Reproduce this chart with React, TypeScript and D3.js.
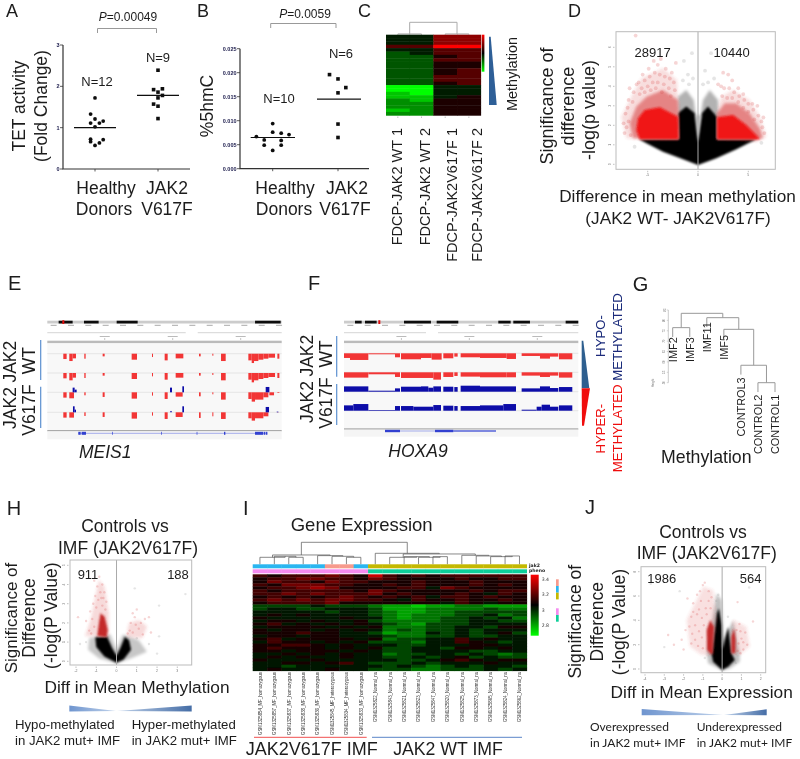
import React from "react";
import * as d3 from "d3";

/* ---------- A / B dot plots ---------- */
const groups = ["Healthy Donors", "JAK2 V617F"];
const tetHealthy = [[0,1.72],[-.07,1.33],[0,1.21],[-.07,1.11],[.07,1.11],[.13,1.16],[0,1.02],[-.07,.66],[0,.57],[.07,.63],[.13,.71],[-.07,.72]];
const tetJak2 = [[1,2.39],[.93,1.92],[1.07,1.94],[1,1.86],[1.07,1.78],[.93,1.57],[1,1.52],[1,1.22],[1,1.72]];
const tetMeans = [1, 1.78];
const hmcHealthy = [[0,.0094],[0,.0076],[.13,.0074],[.25,.0071],[-.25,.0067],[-.13,.006],[.13,.0059],[-.13,.0049],[.13,.0049],[0,.0038]];
const hmcJak2 = [[.87,.0196],[1,.0187],[1.12,.0169],[1,.0158],[1,.0093],[1,.0065]];
const hmcMeans = [.0065, .0145];
const tetTicks = [0,1,2,3];
const hmcTicks = [0,.005,.01,.015,.02,.025];

/* ---------- C heatmap ---------- */
const methylSamples = ["FDCP-JAK2 WT 1","FDCP-JAK2 WT 2","FDCP-JAK2V617F 1","FDCP-JAK2V617F 2"];
const methylRows = ["4477","4477","4477","6699","4466","3466","3356","3366","3355","3355","3356","3356","3366","3366","3356","0044","0044","1044","1145","2155","2255","2255","1255","2255"];

/* ---------- D, H, J volcano plots ---------- */
const dGray = [[-1.99,2.6],[-1.99,3.47],[-1.16,3.81],[-.43,3.3],[0,1.6],[.5,3.3],[1.16,3.81],[1.99,3.3],[1.99,2.44]];
const dBlack = [[0,-.03],[-1.49,.26],[-3.48,.65],[-5.13,1.08],[-5.86,1.28],[-1.92,1.28],[-1.99,2.62],[-1.16,2.96],[-.33,2.62],[0,1.16],[.4,2.62],[.99,2.96],[1.89,2.44],[1.89,1.28],[5.79,1.28],[3.81,.77],[1.82,.31]];
const dOuterL = [[-7.12,1.33],[-7.62,2.44],[-6.62,3.47],[-5.63,4.41],[-3.48,4.92],[-2.09,4.32],[-1.92,2.62],[-1.92,1.28]];
const dOuterR = [[1.89,1.28],[1.89,2.62],[2.32,3.47],[3.48,3.81],[5.13,3.3],[6.13,2.44],[6.79,1.42],[5.79,1.16]];
const dInnerL = [[-6.46,1.33],[-6.79,2.1],[-6.13,2.96],[-5.13,3.47],[-3.48,3.81],[-1.99,3.3],[-1.92,2.44],[-1.92,1.3]];
const dInnerR = [[1.89,2.62],[2.65,3.13],[3.81,3.13],[5.13,2.62],[6.13,1.85],[6.46,1.33],[5.79,1.28],[1.89,1.28]];
const dCoreL = [[-5.8,1.28],[-6.13,1.76],[-5.96,2.36],[-5.3,2.79],[-3.81,2.92],[-1.99,2.44],[-1.92,1.28]];
const dCoreR = [[1.89,1.28],[1.89,2.41],[3.48,2.53],[4.8,2.02],[5.79,1.5],[6.13,1.28]];
const dPink = [[-6.2,6.6],[-4.9,4.9],[-4,5.1],[-5.5,4.6],[-3.2,4.9],[-2.6,4.7],[-6.8,3.9],[-7.2,2.6],[-7.4,2.1],[-7.3,1.6],[-6.9,3.3],[-2.2,5.2],[2.5,4.7],[3,4.6],[3.4,4.3],[4.5,3.6],[5.4,3.1],[6.4,1.9],[6.5,2.4],[5.9,3],[2,4.1],[4,3.9],[-3.7,5.4],[-4.4,5.3],[-5.9,4.2],
  [-6.4,3.7],[-6.1,4.1],[-5.3,4.3],[-4.8,4.5],[-4.3,4.7],[-3.8,4.6],[-3.3,4.5],[-2.8,4.4],[-2.4,4.2],[-5.6,3.9],[-5,4],[-4.5,4.2],[-4,4.2],[-3.4,4.1],[-2.9,3.9],[-2.3,3.8],[-6.5,3.2],[-7,2.9],[-6.9,2.2],[-7.1,1.9],[-6.7,1.5],[-5.8,3.6],[-5.3,3.7],[-4.7,3.8],[-4.2,3.9],[-3.6,3.7],
  [-2.7,3.5],[2.3,4],[2.6,3.9],[3.1,3.9],[3.6,3.7],[4.1,3.5],[4.6,3.3],[5,3.1],[5.5,2.8],[6,2.5],[6.3,2.2],[6.6,1.6],[2.4,3.5],[2.9,3.4],[3.4,3.4],[4,3.2],[4.5,2.9],[5,2.7],[5.6,2.3]];
const dGrayPts = [[-1.4,5.3],[1.3,5.7],[-.6,5.7],[.7,4.8],[-1,4.6],[1.6,4.4],[-.9,4.1],[1,4.2],[-1.5,4.3],[-6.3,.9],[6.3,1.1],[-.5,4.4],[.5,4.1]];

const hGray = [[0,-.1],[-.85,.14],[-1.4,.6],[-1.35,1.2],[-.3,1.4],[0,.6],[.3,1.4],[1.1,1.1],[1.5,.5],[.7,.14]];
const hBlack = [[0,-.07],[-.6,.25],[-1,.75],[-1.05,1.25],[-.46,1.28],[-.21,.68],[0,.3],[.2,.72],[.41,1.28],[.62,1.1],[.72,.6],[.35,.1]];
const hHalo = [[-1.55,1.32],[-1.28,2.15],[-1.04,3.37],[-.87,4.24],[-.59,3.89],[-.38,2.5],[-.38,1.28]];
const hHaloR = [[.49,1.28],[.61,1.98],[1.1,2.15],[1.51,1.81],[1.27,1.2]];
const hCore = [[-.95,1.32],[-.87,1.98],[-.79,2.5],[-.59,2.33],[-.43,1.63],[-.49,1.25]];
const hPink = [[-1.9,2.3],[-1.1,4.2],[-.95,3.9],[-.8,3.6],[-1.3,2.6],[-1.5,2.1],[-.7,4],[-.6,3.6],[-.5,3.1],[-1,2.8],[.9,2.3],[1,2.7],[1.4,2.2],[1.6,2.3],[1.1,1.7],[1.7,1.5],[.7,2],
  [-1.2,2.2],[-1.1,1.8],[-1.35,1.6],[-.9,3.2],[-.75,3.3],[-1.05,3.4],[-.85,4.4],[-.65,3.3],[-1.15,3],[-.55,2.7],[-1.25,1.45],[-.7,2.9],[.65,1.6],[.8,1.5],[.95,1.9],[1.2,2],[1.3,1.4],[.8,2.5],[.55,1.45]];
const hGrayPts = [[2.1,1.3],[3.4,3.5],[.9,3.8],[2.1,2.9],[1.6,.9],[-1.8,.9],[-1.5,1],[1,1.2],[2,.4]];

const jGray = [[0,-.1],[-.72,.47],[-.8,1.29],[-.29,6.2],[-.03,5.67],[.09,2.38],[.57,4],[.91,1.29],[.91,.6],[.4,.05]];
const jBlack = [[0,-.08],[-.47,.6],[-.55,1.29],[-.45,2.38],[-.27,4.58],[-.17,5],[-.02,3.6],[.02,1.6],[.14,2.38],[.31,3.48],[.48,1.29],[.66,.74],[.31,.19]];
const jHaloL = [[-1.67,1.84],[-1.84,4.03],[-.98,6.77],[-.47,6.49],[-.29,4.03],[-.47,1.15],[-1.07,1.15]];
const jHaloR = [[.4,1.29],[.57,4.03],[1.26,3.48],[1.43,1.84],[.91,1.15]];
const jCoreL = [[-.6,1.25],[-.78,1.56],[-.8,3.2],[-.62,4.03],[-.42,3.48],[-.48,1.25]];
const jCoreR = [[.48,1.29],[.48,2.66],[.62,3.34],[.7,2.38],[.68,1.29]];
const jPink = [[-2.8,2.8],[-2.5,2],[-2.1,2.4],[-1.9,3.2],[-2,1.6],[-1.6,4.3],[-1.5,5.4],[-1.3,6.1],[-1,6.9],[-.9,7.1],[-.7,6.4],[-1.8,5.8],[-1.2,4.9],[-1.4,3.6],[-1.1,5.6],[.9,3.7],[1,2.5],[1.2,3],[1.3,2],[1.6,3.9],[.8,5.5],[1.1,1.6],
  [-1.7,3.5],[-1.55,2.9],[-1.4,2.4],[-1.25,1.9],[-1.6,2.1],[-1.2,3.1],[-1.05,4.2],[-1.3,4.5],[-.85,5],[-.7,5.6],[-1.05,2.6],[-1,1.7],[-.95,3.6],[-.8,4.5],[-.6,5],[-1.5,4.7],[-1.15,6.4],[-.55,5.9],[.75,3.2],[.85,2.1],[.95,3.1],[1.1,2.2],[.8,1.5],[.95,1.3]];
const jGrayPts = [[-3.7,7],[-2.2,6.4],[1.4,6.7],[-3,1.8],[-.3,5.6],[-.2,6.1],[.3,4.3],[.7,.5],[-.9,.9]];

/* ---------- E, F browser tracks (view bins, signal depth) ---------- */
const eShared = [[190,200,16],[208,218,22],[218,228,14],[253,257,15],[308,314,8],[395,411,18],[456,459,10],[494,503,20],[527,550,14],[597,602,8],[637,640,6],[663,677,22],[745,755,20],[755,762,28],[762,775,22],[775,790,18],[790,805,15],[805,825,12],[832,838,15]];
const eMut1 = [[190,200,16],[208,222,18],[253,257,9],[308,314,14],[395,411,19],[456,459,10],[494,503,20],[527,548,13],[597,602,12],[637,640,6],[663,677,22],[745,755,20],[755,765,28],[765,790,22],[790,805,15],[808,822,9],[832,838,2]];
const eMut2 = [[190,200,16],[208,222,16],[253,257,11],[308,314,14],[395,411,19],[456,459,10],[494,503,20],[527,548,14],[597,602,17],[637,640,12],[663,677,20],[745,755,18],[755,765,25],[765,790,18],[790,805,12],[832,835,1]];
const eBlue1 = [[218,224,14],[224,230,8],[510,516,14],[547,552,18],[797,808,16]];
const eBlue2 = [[219,224,18],[224,228,8],[511,515,4],[547,552,18],[797,807,16],[830,835,2]];
const eBands = [[176,218],[252,296],[350,413],[765,842]];
const eGene = [[235,242],[245,258],[336,338],[484,486],[590,592],[672,676],[765,790],[792,796],[798,802]];
const fBands = [[105,125],[135,170],[252,333],[350,415],[535,572],[580,630],[737,775]];
const fTrack1 = [[72,90,14],[90,145,20],[145,225,3],[225,240,12],[243,303,18],[303,335,14],[335,365,19],[370,400,15],[403,413,10],[422,480,12],[480,560,14],[560,588,17],[605,660,8],[660,690,16],[690,715,10],[717,757,18]];
const fTrack2 = [[72,145,16],[145,225,6],[225,240,14],[243,340,17],[340,363,22],[370,400,14],[403,413,11],[422,480,13],[480,560,15],[560,588,15],[605,660,10],[660,690,14],[690,715,10],[717,757,16]];
const fTrack3 = [[72,145,16],[145,225,3],[225,240,10],[243,303,15],[303,325,16],[325,340,12],[340,363,16],[370,400,15],[403,413,14],[422,480,18],[480,588,16],[605,660,10],[660,690,16],[690,715,11],[717,757,14]];
const fTrack4 = [[72,100,16],[100,145,20],[145,225,2],[225,240,14],[243,280,14],[280,340,12],[340,363,17],[370,400,15],[403,413,14],[422,480,14],[480,550,16],[550,588,20],[605,650,3],[650,665,12],[665,690,18],[690,715,12],[717,757,16]];

/* ---------- G dendrogram ---------- */
const imfLeaves = ["IMF2","IMF3","IMF11","IMF5","CONTROL3","CONTROL2","CONTROL1"];
const imfTree = {h:83.4,k:[{h:76.5,k:["IMF2","IMF3"]},{h:81.3,k:["IMF11",{h:75.7,k:["IMF5",{h:58.4,k:["CONTROL3",{h:50,k:["CONTROL2","CONTROL1"]}]}]}]}]};
const heightTicks = [50,55,60,65,70,75,80,85];

/* ---------- I heatmap ---------- */
const exprSamples = ["GSM1325854_MF_homozygous","GSM1325857_MF_homozygous","GSM1325837_MF_homozygous","GSM1325838_MF_homozygous","GSM1325836_MF_homozygous","GSM1325845_MF_heterozygous","GSM1325834_MF_heterozygous","GSM1325833_MF_homozygous","GSM1325822_Normal_na","GSM1325843_Normal_na","GSM1325821_Normal_na","GSM1325823_Normal_na","GSM1325847_Normal_na","GSM1325820_Normal_na","GSM1325825_Normal_na","GSM1325873_Normal_na","GSM1325865_Normal_na","GSM1325824_Normal_na","GSM1325862_Normal_na"];
const exprRows = [
"65666765 96565666666","56677665 76555565566","57665766 55565556555","65777665 56565556565",
"56678755 55664765555","65666665 76555556566","66767666 75655565465","56565676 56564665655",
"67676776 65465565565","56666755 55555465455","33334333 21101122111","34433444 31112222322",
"44444344 32112233333","45454444 32122233423","54444454 42122334342","45545445 32222334433",
"56454545 43213334444","45555454 52223344355","54554545 42323343444","55565544 31224343453",
"45545544 43223343344","56455554 52334464544","46554545 33324465434","55665454 44334445544",
"56555454 53344355454","55455545 43344443344","44545454 42334434323","45454454 43343453433",
"54445444 44334565455","44554564 33343444544","44344444 43432343443","45444544 33322333434"];
const genotype = ["#29b6f0","#29b6f0","#29b6f0","#29b6f0","#29b6f0","#f79a8c","#f79a8c","#29b6f0","#c4b800","#c4b800","#c4b800","#c4b800","#c4b800","#c4b800","#c4b800","#c4b800","#c4b800","#c4b800","#c4b800"];
const phenotype = ["#f58bf0","#f58bf0","#f58bf0","#f58bf0","#f58bf0","#f58bf0","#f58bf0","#f58bf0","#10cf9a","#10cf9a","#10cf9a","#10cf9a","#10cf9a","#10cf9a","#10cf9a","#10cf9a","#10cf9a","#10cf9a","#10cf9a"];
const exprTree = {h:66,k:[
  {h:28,k:[{h:21,k:[0,{h:24,k:[1,{h:21,k:[2,3]}]}]},{h:26,k:[4,{h:24,k:[5,{h:21,k:[6,7]}]}]}]},
  {h:33,k:[8,{h:31,k:[{h:21,k:[9,{h:23,k:[10,{h:21,k:[11,{h:23,k:[12,13]}]}]}]},{h:27,k:[14,{h:25,k:[15,{h:23,k:[16,{h:25,k:[17,18]}]}]}]}]}]}]};
const exprKey = [["3.4",3.4],["3.2",3.2],["3",3],["2.8",2.8]];

/* ---------- helpers ---------- */
const SANS = "'Liberation Sans', Arial, sans-serif";
const INK = "#1c1c1c";
const T = ({x,y,s=17.5,a="middle",r=false,fill=INK,it=false,w=400,ff=SANS,children,len}: any) => (
  <text x={x} y={y} fontSize={s} textAnchor={a} fill={fill} fontStyle={it?"italic":"normal"} fontWeight={w} fontFamily={ff}
    textLength={len} lengthAdjust={len?"spacingAndGlyphs":undefined} transform={r?`rotate(-90 ${x} ${y})`:undefined}>{children}</text>
);
const heatScale = d3.scaleLinear<string>().domain([0,4.5,9]).range(["#00ff00","#000000","#ff0000"]);
const exprScale = d3.scaleLinear<string>().domain([0,4.5,9]).range(["#00d000","#000000","#c80000"]);
const closed = d3.line().curve(d3.curveLinearClosed);

function tree(node: any, xOf: (l:any)=>number, yOf: (h:number)=>number, leafEnd: (ph:number)=>number, out: any[]): number {
  const xs = node.k.map((c: any) => {
    if (c && c.k) { const x = tree(c,xOf,yOf,leafEnd,out); out.push([x,yOf(node.h),x,yOf(c.h)]); return x; }
    const x = xOf(c); out.push([x,yOf(node.h),x,yOf(leafEnd(node.h))]); return x;
  });
  out.push([d3.min(xs),yOf(node.h),d3.max(xs),yOf(node.h)]);
  return d3.mean(xs) as number;
}
const Segs = ({segs,stroke="#999",sw=1}: any) => <g stroke={stroke} strokeWidth={sw} fill="none">{segs.map((s:any,i:number)=><line key={i} x1={s[0]} y1={s[1]} x2={s[2]} y2={s[3]}/>)}</g>;

function DotPanel({xr,axisX,yr,dom,ticks,fmt,circles,squares,means,meanSpan,axisEnd,xTicks}: any) {
  const x = d3.scaleLinear([0,1],xr), y = d3.scaleLinear(dom,yr);
  return <g>
    <path d={`M${axisX} ${yr[1]}V${yr[0]}H${axisEnd}`} fill="none" stroke="#333" strokeWidth={1.2}/>
    {ticks.map((t:number)=><g key={t}><line x1={axisX-3} x2={axisX} y1={y(t)} y2={y(t)} stroke="#333" strokeWidth={.8}/>
      <text x={axisX-3.5} y={y(t)+2} fontSize={5.5} fontWeight={700} textAnchor="end" fontFamily="'Liberation Sans Narrow','Liberation Sans',sans-serif" fill="#1a1a4a">{fmt(t)}</text></g>)}
    {xTicks.map((t:number)=><line key={t} x1={x(t)} x2={x(t)} y1={yr[0]} y2={yr[0]+2.5} stroke="#333" strokeWidth={.8}/>)}
    {circles.map((p:number[],i:number)=><circle key={i} cx={x(p[0])} cy={y(p[1])} r={1.9} fill="#111"/>)}
    {squares.map((p:number[],i:number)=><rect key={i} x={x(p[0])-1.8} y={y(p[1])-1.8} width={3.6} height={3.6} fill="#111"/>)}
    {means.map((m:number,i:number)=><line key={i} x1={meanSpan[i][0]} x2={meanSpan[i][1]} y1={y(m)} y2={y(m)} stroke="#111" strokeWidth={1.2}/>)}
  </g>;
}

function Volcano({id,box,xDom,xr,yDom,yr,xTicks,yTicks,gray,grayOp=.3,black,halos,cores,pink,grayPts,coreFill,r=1.8}: any) {
  const x = d3.scaleLinear(xDom,xr), y = d3.scaleLinear(yDom,yr);
  const poly = (d:number[][]) => closed(d.map(p=>[x(p[0]),y(p[1])]) as any) as string;
  const [l,t,rr,b] = box;
  return <g>
    <clipPath id={id}><rect x={l} y={t} width={rr-l} height={b-t}/></clipPath>
    <g clipPath={`url(#${id})`}>
      <path d={poly(gray)} fill="#000" opacity={grayOp} filter="url(#b2)"/>
      <path d={poly(black)} fill="#000" filter="url(#b05)"/>
      {halos.map((h:any,i:number)=><path key={i} d={poly(h.d)} fill="#d84a4a" opacity={h.o} filter="url(#b2)"/>)}
      {cores.map((h:any,i:number)=><path key={i} d={poly(h)} fill={coreFill} filter="url(#b05)"/>)}
      {grayPts.map((p:number[],i:number)=><circle key={i} cx={x(p[0])} cy={y(p[1])} r={r} fill="#888" opacity={.22}/>)}
      {pink.map((p:number[],i:number)=><circle key={i} cx={x(p[0])} cy={y(p[1])} r={r} fill="#d84040" opacity={.22}/>)}
    </g>
    <line x1={x(0)} x2={x(0)} y1={t} y2={b} stroke="#aaa" strokeWidth={1}/>
    <rect x={l} y={t} width={rr-l} height={b-t} fill="none" stroke="#bbb" strokeWidth={1}/>
    {xTicks.map((v:number)=><g key={v}><line x1={x(v)} x2={x(v)} y1={b+1.5} y2={b+3} stroke="#999" strokeWidth={.6}/><text x={x(v)} y={b+7} fontSize={3.5} textAnchor="middle" fill="#777" fontFamily={SANS}>{v}</text></g>)}
    {yTicks.map((v:number)=><g key={v}><line x1={l-3} x2={l-1.5} y1={y(v)} y2={y(v)} stroke="#999" strokeWidth={.6}/><text x={l-5} y={y(v)} fontSize={3.5} textAnchor="middle" fill="#777" fontFamily={SANS} transform={`rotate(-90 ${l-5} ${y(v)})`}>{v}</text></g>)}
  </g>;
}

function Browser({dom,xr,bands,marker,tracks,gene,bgBottom,botY,kbX}: any) {
  const x = d3.scaleLinear(dom,xr);
  const depth = d3.scaleLinear([0,30],[0,10]);
  const [l,rr] = xr;
  return <g>
    <rect x={l} y={320.7} width={rr-l} height={2.8} fill="#ccc"/>
    {bands.map((b:number[],i:number)=><rect key={i} x={x(b[0])} y={320.7} width={x(b[1])-x(b[0])} height={2.8} fill="#111"/>)}
    <rect x={x(marker)-1} y={320.2} width={2} height={3.8} fill="#e01010"/>
    {d3.range(dom[0]+10,dom[1],52).map((v:number)=><rect key={v} x={x(v)} y={324.8} width={6} height={1} fill="#aaa"/>)}
    <line x1={l} x2={kbX-6} y1={332.7} y2={332.7} stroke="#ddd" strokeWidth={1.2}/>
    <line x1={kbX+6} x2={rr} y1={332.7} y2={332.7} stroke="#ddd" strokeWidth={1.2}/>
    <rect x={l} y={340.7} width={rr-l} height={2.6} fill="#bbb"/>
    <rect x={l} y={343.3} width={rr-l} height={bgBottom-343.3} fill="#f8f8f8"/>
    {[.245,.535,.825].map((f:number)=><g key={f}><line x1={l+f*(rr-l)} x2={l+f*(rr-l)} y1={338} y2={340} stroke="#888" strokeWidth={.5}/><rect x={l+f*(rr-l)-5} y={336} width={10} height={1} fill="#bbb"/></g>)}
    {tracks.map((t:any,i:number)=><g key={i}>
      <line x1={l} x2={rr} y1={t.y} y2={t.y} stroke="#ddd" strokeWidth={.7}/>
      {t.red.map((s:number[],j:number)=><rect key={j} x={x(s[0])} y={t.y} width={x(s[1])-x(s[0])} height={depth(s[2])} fill="#f23535"/>)}
      {t.blue.map((s:number[],j:number)=><rect key={j} x={x(s[0])} y={t.y-depth(s[2])} width={x(s[1])-x(s[0])} height={depth(s[2])} fill="#0c0ca8"/>)}
    </g>)}
    <rect x={l} y={bgBottom} width={rr-l} height={1.4} fill="#aaa"/>
    <rect x={l} y={bgBottom+1.4} width={rr-l} height={botY-bgBottom-1.4} fill="#f5f5f5"/>
    <line x1={x(gene.from)} x2={x(gene.to)} y1={gene.y} y2={gene.y} stroke="#5060e0" strokeWidth={.5}/>
    {gene.exons.map((e:number[],i:number)=><rect key={i} x={x(e[0])} y={gene.y-(e[2]||3)/2} width={x(e[1])-x(e[0])} height={e[2]||3} fill="#3040d0"/>)}
  </g>;
}

export default function App() {
  const cX = d3.scaleBand(d3.range(4),[386,480.7]);
  const cY = d3.scaleLinear([0,32],[34.7,22.3]);
  const cSegs:any[] = [];
  tree({h:32,k:[{h:2,k:[0,1]},{h:2,k:[2,3]}]},(i:number)=>cX(i)!+cX.bandwidth()/2,cY,()=>0,cSegs);
  const gX = d3.scalePoint(imfLeaves,[672.7,775]);
  const gY = d3.scaleLinear([50,85],[382.7,310]);
  const gSegs:any[] = [];
  tree(imfTree,(l:string)=>gX(l)!,gY,(h:number)=>h-4.5,gSegs);
  const iX = d3.scaleBand(d3.range(19),[252.7,526.7]);
  const iTreeY = d3.scaleLinear([0,66],[564.3,542.3]);
  const iSegs:any[] = [];
  tree(exprTree,(i:number)=>iX(i)!+iX.bandwidth()/2,iTreeY,()=>0,iSegs);
  const iRowY = d3.scaleBand(d3.range(exprRows.length),[574.3,670.7]);
  const cRowY = d3.scaleBand(d3.range(methylRows.length),[34.7,115.3]);
  const keyY = d3.scaleLinear([3.4,2.8],[579.3,625.7]);
  const L = {s:18};

  return <svg width={800} height={759} viewBox="0 0 800 759" style={{position:"absolute",left:0,top:0,display:"block",background:"#fff"}}>
    <defs>
      <filter id="b05" x="-20%" y="-20%" width="140%" height="140%"><feGaussianBlur stdDeviation=".9"/></filter>
      <filter id="b2" x="-30%" y="-30%" width="160%" height="160%"><feGaussianBlur stdDeviation="1.8"/></filter>
      <filter id="soft" x="-2%" y="-2%" width="104%" height="104%"><feGaussianBlur stdDeviation=".3"/></filter>
      <linearGradient id="rgb" x1="0" y1="0" x2="0" y2="1"><stop offset="0" stopColor="#ff0000"/><stop offset=".5" stopColor="#000"/><stop offset="1" stopColor="#00ff00"/></linearGradient>
      <linearGradient id="wedgeL" x1="0" x2="1"><stop offset="0" stopColor="#6f95cf"/><stop offset="1" stopColor="#c0d2ea"/></linearGradient>
      <linearGradient id="wedgeR" x1="0" x2="1"><stop offset="0" stopColor="#c0d2ea"/><stop offset="1" stopColor="#456da6"/></linearGradient>
    </defs>
    <g filter="url(#soft)">
    {/* A */}
    <T x={6} y={16.5} s={L.s} a="start">A</T>
    <T x={128} y={21} s={12}><tspan fontStyle="italic">P</tspan>=0.00049</T>
    <path d="M97.5 33V28.5H156.5V33" fill="none" stroke="#999"/>
    <T x={25} y={106} r>TET activity</T>
    <T x={47} y={106} r>(Fold Change)</T>
    <DotPanel xr={[95,158]} axisX={63} yr={[169,45]} dom={[0,3]} ticks={tetTicks} fmt={(t:number)=>String(t)} circles={tetHealthy} squares={tetJak2} means={tetMeans} meanSpan={[[74,116],[137,179]]} axisEnd={190} xTicks={[0,1]}/>
    <T x={97} y={86} s={13}>N=12</T>
    <T x={158} y={62} s={13}>N=9</T>
    <T x={106} y={194}>{groups[0].split(" ")[0]}</T>
    <T x={104} y={215}>{groups[0].split(" ")[1]}</T>
    <T x={167} y={194}>{groups[1].split(" ")[0]}</T>
    <T x={167} y={215}>{groups[1].split(" ")[1]}</T>
    {/* B */}
    <T x={197} y={16.5} s={L.s} a="start">B</T>
    <T x={305} y={18} s={12}><tspan fontStyle="italic">P</tspan>=0.0059</T>
    <path d="M270.7 28V23.5H336V28" fill="none" stroke="#999"/>
    <T x={213} y={106} r>%5hmC</T>
    <DotPanel xr={[272.7,338]} axisX={240} yr={[168.7,48.7]} dom={[0,.025]} ticks={hmcTicks} fmt={(t:number)=>t.toFixed(3)} circles={hmcHealthy} squares={hmcJak2} means={hmcMeans} meanSpan={[[250.7,295],[317,361]]} axisEnd={369} xTicks={[0,1]}/>
    <T x={279} y={103} s={13}>N=10</T>
    <T x={341} y={58} s={13}>N=6</T>
    <T x={285} y={194}>{groups[0].split(" ")[0]}</T>
    <T x={284} y={215}>{groups[0].split(" ")[1]}</T>
    <T x={347} y={194}>{groups[1].split(" ")[0]}</T>
    <T x={345} y={215}>{groups[1].split(" ")[1]}</T>
    {/* C */}
    <T x={358} y={16.5} s={L.s} a="start">C</T>
    <Segs segs={cSegs} stroke="#aaa"/>
    {methylRows.map((row,ri)=>row.split("").map((c,ci)=><rect key={`${ri}-${ci}`} x={cX(ci)} y={cRowY(ri)} width={cX.bandwidth()+.4} height={cRowY.bandwidth()+.4} fill={heatScale(+c)}/>))}
    {methylSamples.map((s,i)=><T key={s} x={[401.7,430,456.7,481.7][i]} y={128} s={14.5} a="end" r>{s}</T>)}
    {methylSamples.map((s,i)=><line key={s} x1={cX(i)!+cX.bandwidth()/2} x2={cX(i)!+cX.bandwidth()/2} y1={116.5} y2={118} stroke="#999" strokeWidth={.6}/>)}
    <rect x={481.7} y={34.7} width={2.7} height={37} fill="url(#rgb)"/>
    <path d="M489 36.7H490.7L496.7 105H489Z" fill="#2f5f97"/>
    <T x={516.7} y={74} s={14.5} r>Methylation</T>
    {/* D */}
    <T x={568} y={16.5} s={L.s} a="start">D</T>
    <Volcano id="cd" box={[616,31.7,775.3,169.3]} xDom={[-5,5]} xr={[647.7,748.3]} yDom={[0,6]} yr={[164.3,47.3]} xTicks={[-5,0,5]} yTicks={[0,1,2,3,4,5,6]}
      gray={dGray} black={dBlack} halos={[{d:dOuterL,o:.18},{d:dOuterR,o:.18},{d:dInnerL,o:.6},{d:dInnerR,o:.6}]} cores={[dCoreL,dCoreR]} pink={dPink} grayPts={dGrayPts} coreFill="#f01212" r={1.9}/>
    <T x={652.7} y={56.7} s={13}>28917</T>
    <T x={731.7} y={56.7} s={13}>10440</T>
    <T x={552.7} y={106} s={18} r>Significance of</T>
    <T x={574} y={106} s={18} r>difference</T>
    <T x={595} y={110} s={18} r>-log(p value)</T>
    <T x={677.5} y={202} s={17.2}>Difference in mean methylation</T>
    <T x={678} y={224} s={17.2}>(JAK2 WT- JAK2V617F)</T>
    {/* E */}
    <T x={8} y={290} s={20} a="start">E</T>
    <Browser dom={[142,845]} xr={[47.3,281.7]} bands={eBands} marker={190} bgBottom={430} botY={439.3} kbX={191.7}
      tracks={[{y:353.7,red:eShared,blue:[]},{y:373,red:eShared,blue:[]},{y:392.3,red:eMut1,blue:eBlue1},{y:412.3,red:eMut2,blue:eBlue2}]}
      gene={{from:235,to:802,y:433.3,exons:eGene}}/>
    <line x1={40.7} x2={40.7} y1={340} y2={380} stroke="#5b8fd0" strokeWidth={1.2}/>
    <line x1={40.7} x2={40.7} y1={386.7} y2={428} stroke="#5b8fd0" strokeWidth={1.2}/>
    <T x={16} y={361.7} r>JAK2</T><T x={35} y={360.7} r>WT</T>
    <T x={16} y={408} r>JAK2</T><T x={35} y={410} r>V617F</T>
    <T x={79} y={458} a="start" it>MEIS1</T>
    {/* F */}
    <T x={308} y={290} s={20} a="start">F</T>
    <Browser dom={[72,775]} xr={[344,578.3]} bands={fBands} marker={178} bgBottom={428.3} botY={436.7} kbX={432}
      tracks={[{y:353.3,red:fTrack1,blue:[]},{y:372.3,red:fTrack2,blue:[]},{y:391.7,red:[],blue:fTrack3},{y:410.7,red:[],blue:fTrack4}]}
      gene={{from:195,to:528,y:431,exons:[[195,240,2.4],[345,400,2.4],[400,528,1]]}}/>
    <line x1={336.7} x2={336.7} y1={336} y2={376.7} stroke="#5b8fd0" strokeWidth={1.2}/>
    <line x1={336.7} x2={336.7} y1={384} y2={425} stroke="#5b8fd0" strokeWidth={1.2}/>
    <T x={312.7} y={355.7} r>JAK2</T><T x={331.7} y={354} r>WT</T>
    <T x={312.7} y={402} r>JAK2</T><T x={331.7} y={403} r>V617F</T>
    <T x={418} y={457} it>HOXA9</T>
    <path d="M581.7 340.7H583.3L589.3 388.3H581.7Z" fill="#2f5f8f"/>
    <path d="M581.7 388.3H590L584 425.7H582Z" fill="#f01010"/>
    <T x={605} y={336} s={13.2} r fill="#1a2a7a">HYPO-</T>
    <T x={621.7} y={337} s={13.2} r fill="#1a2a7a">METHYLATED</T>
    <T x={605} y={428.7} s={13.2} r fill="#ee1111">HYPER-</T>
    <T x={621.7} y={428.3} s={13.2} r fill="#ee1111">METHYLATED</T>
    {/* G */}
    <T x={632.7} y={290.7} s={20} a="start">G</T>
    <Segs segs={gSegs}/>
    <line x1={668.3} x2={668.3} y1={gY(85)} y2={gY(50)} stroke="#aaa" strokeWidth={.6}/>
    {heightTicks.map(t=><g key={t}><line x1={666.8} x2={668.3} y1={gY(t)} y2={gY(t)} stroke="#aaa" strokeWidth={.5}/><text x={665.5} y={gY(t)} fontSize={3} fill="#777" textAnchor="middle" fontFamily={SANS} transform={`rotate(-90 665.5 ${gY(t)})`}>{t}</text></g>)}
    <text x={654} y={383} fontSize={3} fill="#777" textAnchor="middle" fontFamily={SANS} transform="rotate(-90 654 383)">Height</text>
    {imfLeaves.map(l=>{
      const tops:any = {IMF2:337.3,IMF3:337.3,IMF11:322.3,IMF5:335,CONTROL3:377.3,CONTROL2:394.7,CONTROL1:394.7};
      return <T key={l} x={gX(l)!+4} y={tops[l]} s={10.9} a="end" r>{l}</T>;})}
    <T x={706.3} y={463} s={17.7}>Methylation</T>
    {/* H */}
    <T x={6.7} y={515} s={20} a="start">H</T>
    <T x={125} y={531.7}>Controls vs</T>
    <T x={128} y={554}>IMF (JAK2V617F)</T>
    <Volcano id="ch" box={[70,560,191.7,665]} xDom={[-2,3]} xr={[76,177.3]} yDom={[0,5]} yr={[661.3,565.3]} xTicks={[-2,-1,0,1,2,3]} yTicks={[0,1,2,3,4,5]}
      gray={hGray} grayOp={.22} black={hBlack} halos={[{d:hHalo,o:.2},{d:hHaloR,o:.2}]} cores={[hCore]} pink={hPink} grayPts={hGrayPts} coreFill="#c42a2a" r={1.2}/>
    <T x={88} y={579} s={13}>911</T>
    <T x={178} y={579} s={13}>188</T>
    <T x={16.5} y={618} s={17} r>Significance of</T>
    <T x={35} y={618} r>Difference</T>
    <T x={56.7} y={615.7} r>(-log(P Value)</T>
    <T x={137} y={693} s={17.3}>Diff in Mean Methylation</T>
    <path d="M69.3 705.5L116 711L69.3 711.5Z" fill="url(#wedgeL)"/>
    <path d="M117 711L191.7 705.5V711.5Z" fill="url(#wedgeR)"/>
    <T x={15} y={729} s={13.2} a="start">Hypo-methylated</T>
    <T x={15} y={745} s={13.2} a="start">in JAK2 mut+ IMF</T>
    <T x={131.7} y={729} s={13.2} a="start">Hyper-methylated</T>
    <T x={131.7} y={745} s={13.2} a="start">in JAK2 mut+ IMF</T>
    {/* I */}
    <T x={243} y={515} s={20} a="start">I</T>
    <T x={361.7} y={530.7} s={18.5}>Gene Expression</T>
    <Segs segs={iSegs} stroke="#555" sw={.7}/>
    {genotype.map((c,i)=><rect key={i} x={iX(i)} y={564.3} width={iX.bandwidth()+.3} height={4} fill={c}/>)}
    {phenotype.map((c,i)=><rect key={i} x={iX(i)} y={569.3} width={iX.bandwidth()+.3} height={4} fill={c}/>)}
    {exprRows.map((row,ri)=>row.replace(" ","").split("").map((c,ci)=><rect key={`${ri}-${ci}`} x={iX(ci)} y={iRowY(ri)} width={iX.bandwidth()+.4} height={iRowY.bandwidth()+.4} fill={exprScale(+c)}/>))}
    <text x={529} y={567} fontSize={4.6} fontWeight={700} fontFamily="'DejaVu Sans'" fill="#222">jak2</text>
    <text x={529} y={572} fontSize={4.6} fontWeight={700} fontFamily="'DejaVu Sans'" fill="#222">pheno</text>
    <rect x={530.7} y={574.7} width={8} height={61} fill="url(#rgb)"/>
    {exprKey.map(k=><text key={k[0]} x={541.7} y={keyY(k[1] as number)+1.5} fontSize={4.6} fontFamily="'DejaVu Sans'" fill="#333">{k[0]}</text>)}
    <rect x={556} y={579.3} width={2.7} height={6.7} fill="#f79a8c"/>
    <rect x={556} y={586} width={2.7} height={6.7} fill="#29b6f0"/>
    <rect x={556} y={592.7} width={2.7} height={6.7} fill="#c4b800"/>
    <rect x={556} y={608.3} width={2.7} height={6.7} fill="#f58bf0"/>
    <rect x={556} y={615} width={2.7} height={6.7} fill="#10cf9a"/>
    {exprSamples.map((s,i)=>{const cx=iX(i)!+iX.bandwidth()/2+1.8;return <T key={s} x={cx} y={672} s={5} a="end" r fill="#333" len={i<8?63:50}>{s}</T>;})}
    <line x1={254} x2={366.7} y1={737.3} y2={737.3} stroke="#f05050" strokeWidth={1}/>
    <line x1={372} x2={522} y1={737.3} y2={737.3} stroke="#5b85c8" strokeWidth={1}/>
    <T x={311.7} y={755} s={18}>JAK2V617F IMF</T>
    <T x={448} y={755} s={17.7}>JAK2 WT IMF</T>
    {/* J */}
    <T x={585} y={514} s={20} a="start">J</T>
    <T x={703} y={538}>Controls vs</T>
    <T x={706.7} y={559.3}>IMF (JAK2V617F)</T>
    <Volcano id="cj" box={[641,566.7,765.7,672.7]} xDom={[-4,2]} xr={[645,760.7]} yDom={[0,8]} yr={[669,571.7]} xTicks={[-4,-3,-2,-1,0,1,2]} yTicks={[0,2,4,6,8]}
      gray={jGray} grayOp={.25} black={jBlack} halos={[{d:jHaloL,o:.16},{d:jHaloR,o:.16}]} cores={[jCoreL,jCoreR]} pink={jPink} grayPts={jGrayPts} coreFill="#c42a2a" r={1.2}/>
    <T x={661.7} y={582.7} s={13}>1986</T>
    <T x={750.7} y={582.7} s={13}>564</T>
    <T x={581} y={621.7} r>Significance of</T>
    <T x={603.3} y={621.7} r>Difference</T>
    <T x={625} y={622} r>(-log(P Value)</T>
    <T x={701.7} y={698.3} s={17.3}>Diff in Mean Expression</T>
    <path d="M641.7 709L722.7 715L641.7 715.2Z" fill="url(#wedgeL)"/>
    <path d="M724 715L766.7 709.3V715.2Z" fill="url(#wedgeR)"/>
    <T x={590} y={730.7} s={12} a="start" ff="Lato">Overexpressed</T>
    <T x={590} y={746.7} s={12} a="start" ff="Lato">in JAK2 mut+ IMF</T>
    <T x={696.7} y={730.7} s={12} a="start" ff="Lato">Underexpressed</T>
    <T x={696.7} y={746.7} s={12} a="start" ff="Lato">in JAK2 mut+ IMF</T>
    </g>
  </svg>;
}
